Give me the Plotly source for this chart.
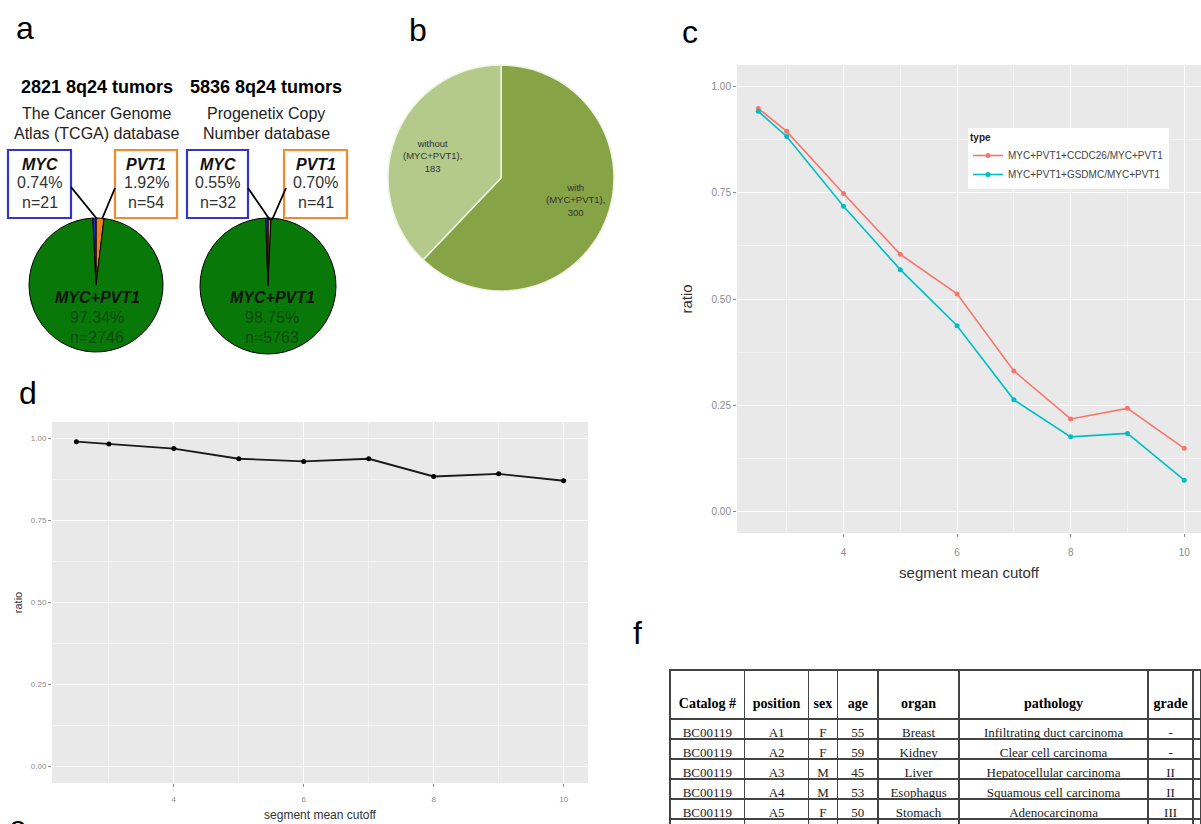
import plotly.graph_objects as go

W, H = 1201, 824
def X(px): return px / W
def Y(py): return 1 - py / H

# ---------------- Panel a data ----------------
a_labels = ["PVT1", "MYC+PVT1", "MYC"]
tcga_n = [54, 2746, 21]
tcga_pct = ["1.92%", "97.34%", "0.74%"]
prog_n = [41, 5763, 32]
prog_pct = ["0.70%", "98.75%", "0.55%"]
a_colors = ["#F07F1E", "#087808", "#2B2BD0"]
a_titles = ["2821 8q24 tumors", "5836 8q24 tumors"]
a_subtitles = [["The Cancer Genome", "Atlas (TCGA) database"], ["Progenetix Copy", "Number database"]]

# ---------------- Panel b data ----------------
b_labels = ["with<br>(MYC+PVT1),", "without<br>(MYC+PVT1),"]
b_values = [300, 183]
b_colors = ["#86A346", "#B4CA8B"]

# ---------------- Panel c data ----------------
cutoff = [2.5, 3, 4, 5, 6, 7, 8, 9, 10]
ratio_ccdc26 = [0.948, 0.894, 0.748, 0.605, 0.512, 0.331, 0.218, 0.243, 0.149]
ratio_gsdmc = [0.941, 0.882, 0.718, 0.569, 0.437, 0.263, 0.176, 0.184, 0.074]
c_names = ["MYC+PVT1+CCDC26/MYC+PVT1", "MYC+PVT1+GSDMC/MYC+PVT1"]
c_colors = ["#F8766D", "#00BFC4"]

# ---------------- Panel d data ----------------
ratio_d = [0.990, 0.983, 0.969, 0.938, 0.930, 0.938, 0.884, 0.892, 0.871]

# ---------------- Panel f table ----------------
f_header = ["Catalog #", "position", "sex", "age", "organ", "pathology", "grade", ""]
f_catalog = ["BC00119", "BC00119", "BC00119", "BC00119", "BC00119", "BC00119"]
f_position = ["A1", "A2", "A3", "A4", "A5", "A6"]
f_sex = ["F", "F", "M", "M", "F", "M"]
f_age = [55, 59, 45, 53, 50, 60]
f_organ = ["Breast", "Kidney", "Liver", "Esophagus", "Stomach", "Rectum"]
f_pathology = ["Infiltrating duct carcinoma", "Clear cell carcinoma", "Hepatocellular carcinoma",
               "Squamous cell carcinoma", "Adenocarcinoma", "Adenocarcinoma"]
f_grade = ["-", "-", "II", "II", "III", "II"]
f_extra = ["", "", "", "", "", ""]

SANS = "Liberation Sans, Arial, sans-serif"
SERIF = "Liberation Serif, Times New Roman, serif"

fig = go.Figure()

# ---- Panel a pies ----
pie_a = [
    (tcga_n, (29, 163, 218, 352)),
    (prog_n, (200, 336, 218, 354)),
]
for vals, (x0, x1, y0, y1) in pie_a:
    fig.add_trace(go.Pie(
        labels=a_labels, values=vals, sort=False, direction="clockwise", rotation=0,
        marker=dict(colors=a_colors, line=dict(color="black", width=1)),
        textinfo="none", hoverinfo="label+value", showlegend=False,
        domain=dict(x=[X(x0), X(x1)], y=[Y(y1), Y(y0)]),
    ))

# ---- Panel b pie ----
fig.add_trace(go.Pie(
    labels=b_labels, values=b_values, sort=False, direction="clockwise", rotation=0,
    marker=dict(colors=b_colors, line=dict(color="#EEF3E4", width=1.5)),
    textinfo="none", showlegend=False,
    domain=dict(x=[X(388), X(614)], y=[Y(291), Y(65)]),
))

# ---- Panel c lines ----
for name, vals, col in zip(c_names, [ratio_ccdc26, ratio_gsdmc], c_colors):
    fig.add_trace(go.Scatter(
        x=cutoff, y=vals, name=name, mode="lines+markers",
        line=dict(color=col, width=1.6), marker=dict(color=col, size=5),
        xaxis="x", yaxis="y", showlegend=True,
    ))

# ---- Panel d line ----
fig.add_trace(go.Scatter(
    x=cutoff, y=ratio_d, mode="lines+markers", name="ratio",
    line=dict(color="#1a1a1a", width=1.8), marker=dict(color="black", size=5),
    xaxis="x2", yaxis="y2", showlegend=False,
))

# ---- Panel f table ----
hdr = ["&nbsp;<br><b>%s</b>" % h if h else "" for h in f_header]
fig.add_trace(go.Table(
    domain=dict(x=[X(670), 1.0], y=[0.0, Y(670)]),
    columnwidth=[75, 64, 29, 41, 81, 190, 45, 8],
    header=dict(values=hdr, height=42, align="center",
                font=dict(family=SERIF, size=14, color="black"),
                line=dict(color="#444444", width=1.5), fill_color="white"),
    cells=dict(values=[f_catalog, f_position, f_sex, f_age, f_organ, f_pathology, f_grade, f_extra],
               height=20, align="center",
               font=dict(family=SERIF, size=13, color="#222222"),
               line=dict(color="#444444", width=1.5), fill_color="white"),
))

grid_major = "white"
grid_minor = "#F3F3F3"

def axis_common(tickfont_size, standoff):
    return dict(
        showgrid=True, gridcolor=grid_major, gridwidth=1.2, zeroline=False,
        ticks="outside", ticklen=3, tickcolor="#8a8a8a", tickwidth=1,
        tickfont=dict(family=SANS, size=tickfont_size, color="#8c8c8c"),
        showline=False, ticklabelstandoff=standoff,
    )

fig.update_layout(
    width=W, height=H, margin=dict(l=0, r=0, t=0, b=0),
    paper_bgcolor="white", plot_bgcolor="#E9E9E9",
    font=dict(family=SANS),
    xaxis=dict(domain=[X(737), 1.0], range=[2.125, 10.295], tick0=0, dtick=2,
               minor=dict(dtick=1, tick0=0, showgrid=True, gridcolor=grid_minor, gridwidth=0.8),
               title=dict(text="segment mean cutoff", font=dict(size=15, color="#333333"), standoff=10),
               anchor="y", **axis_common(10, 7)),
    yaxis=dict(domain=[Y(533), Y(65)], range=[-0.05, 1.05], tick0=0, dtick=0.25, tickformat=".2f",
               minor=dict(dtick=0.125, tick0=0, showgrid=True, gridcolor=grid_minor, gridwidth=0.8),
               title=dict(text="ratio", font=dict(size=15, color="#333333"), standoff=15),
               anchor="x", **axis_common(10, 0)),
    xaxis2=dict(domain=[X(52), X(588)], range=[2.125, 10.375], tick0=0, dtick=2,
                minor=dict(dtick=1, tick0=0, showgrid=True, gridcolor=grid_minor, gridwidth=0.8),
                title=dict(text="segment mean cutoff", font=dict(size=12, color="#333333"), standoff=8),
                anchor="y2", **axis_common(8, 5)),
    yaxis2=dict(domain=[Y(783), Y(422)], range=[-0.05, 1.05], tick0=0, dtick=0.25, tickformat=".2f",
                minor=dict(dtick=0.125, tick0=0, showgrid=True, gridcolor=grid_minor, gridwidth=0.8),
                title=dict(text="ratio", font=dict(size=11, color="#333333"), standoff=5),
                anchor="x2", **axis_common(8, 0)),
    legend=dict(x=X(968), y=Y(128), xanchor="left", yanchor="top", bgcolor="white",
                font=dict(family=SANS, size=10, color="#444444"),
                title=dict(text="<b>type</b>", font=dict(family=SANS, size=10, color="#222222")),
                itemwidth=30, tracegroupgap=0),
)

ann = []
def add_text(x, y, text, size, color="black", family=SANS, xanchor="center", yanchor="middle"):
    ann.append(dict(x=X(x), y=Y(y), xref="paper", yref="paper", text=text, showarrow=False,
                    font=dict(family=family, size=size, color=color),
                    xanchor=xanchor, yanchor=yanchor))

# panel letters
add_text(25, 28, "a", 32)
add_text(418, 30, "b", 32)
add_text(690, 32, "c", 32)
add_text(28, 393, "d", 32)
add_text(18, 827, "e", 32)
add_text(637, 633, "f", 32)

# panel a titles
for cx, t, s in zip([97, 266], a_titles, a_subtitles):
    add_text(cx, 87, "<b>%s</b>" % t, 18)
    add_text(cx, 113, s[0], 16, color="#222222")
    add_text(cx, 133, s[1], 16, color="#222222")

# panel a boxes + callouts
shapes = []
boxes = [
    ((8, 71), "#3535C8", "MYC", tcga_pct[2], tcga_n[2]),
    ((115, 177), "#F08A30", "PVT1", tcga_pct[0], tcga_n[0]),
    ((187, 248), "#3535C8", "MYC", prog_pct[2], prog_n[2]),
    ((284, 347), "#F08A30", "PVT1", prog_pct[0], prog_n[0]),
]
for (bx0, bx1), col, lab, pct, n in boxes:
    shapes.append(dict(type="rect", xref="paper", yref="paper", x0=X(bx0), x1=X(bx1),
                       y0=Y(218), y1=Y(150), line=dict(color=col, width=2.2), fillcolor="white"))
    cx = (bx0 + bx1) / 2
    add_text(cx, 165, "<b><i>%s</i></b>" % lab, 16, color="#111111")
    add_text(cx, 183, pct, 16, color="#333333")
    add_text(cx, 202, "n=%d" % n, 16, color="#333333")

for (lx0, ly0, lx1, ly1) in [(71, 187, 97, 219), (115, 188, 102, 219),
                            (248, 188, 270, 220), (286, 188, 272, 220)]:
    shapes.append(dict(type="line", xref="paper", yref="paper", x0=X(lx0), y0=Y(ly0),
                       x1=X(lx1), y1=Y(ly1), line=dict(color="black", width=1.8)))

# texts inside pies a
for cx, pct, n in [(97, tcga_pct[1], tcga_n[1]), (272, prog_pct[1], prog_n[1])]:
    add_text(cx, 298, "<b><i>MYC+PVT1</i></b>", 16, color="#111111")
    add_text(cx, 318, pct, 16, color="#0E4A0E")
    add_text(cx, 338, "n=%d" % n, 16, color="#0E4A0E")

# panel b labels
add_text(432, 156, "%s<br>%d" % (b_labels[1], b_values[1]), 9.5, color="#333333")
add_text(575, 200, "%s<br>%d" % (b_labels[0], b_values[0]), 9.5, color="#333333")

fig.update_layout(annotations=ann, shapes=shapes)

fig.write_html("out.html", config={"displayModeBar": False},
               post_script="document.body.style.margin='0px';")
